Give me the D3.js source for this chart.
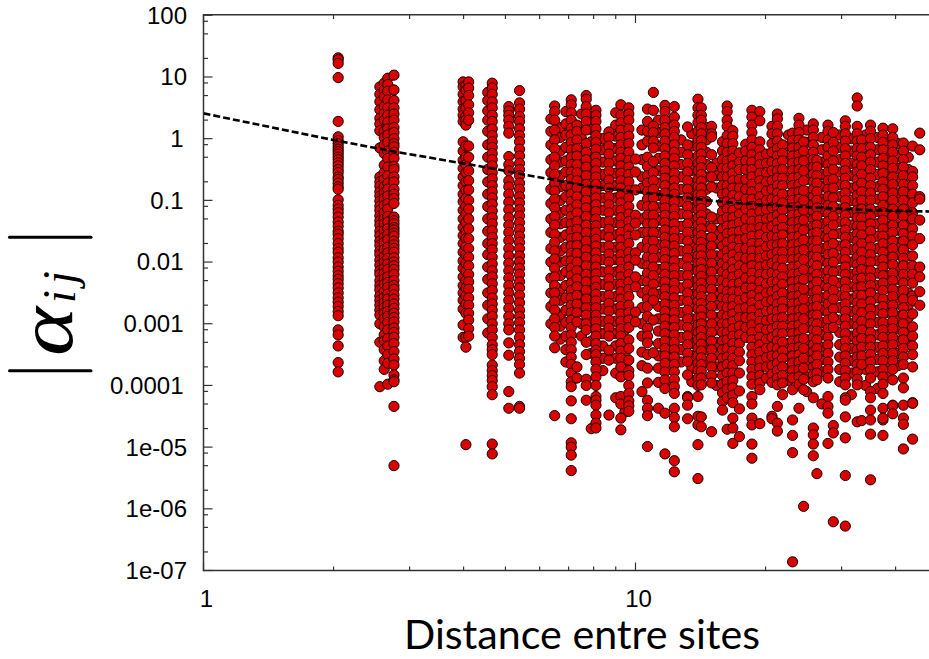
<!DOCTYPE html>
<html><head><meta charset="utf-8">
<script src="https://cdn.jsdelivr.net/npm/d3@7/dist/d3.min.js"></script>
<style>html,body{margin:0;padding:0;background:#fff}svg{display:block}</style></head>
<body><svg id="c" width="929" height="659"></svg>
<script>
// Secondary, thinner columns (drawn first)
const sideDistances=[6.37,6.7,6.9,7.5,7.9,8.4,9.0,9.45,10.35,11.3,12.0,12.75,13.5,14.6,15.4,22.6,24.9,27.0,29.7,31.6,34.1,36.3,38.5,40.5,42.8];
const sideLogAlpha=[
[.32,.12,-.1,-.34,-.55,-.82,-1.05,-1.3,-1.52,-1.78,-2.0,-2.26,-2.5,-2.72,-3.0],
[.18,.02,-.2,-.38,-.6,-.78,-1.0,-1.2,-1.38,-1.6,-1.82,-2.0,-2.22,-2.44,-2.62,-2.86,-3.04,-3.25],
[.44,.24,.06,-.14,-.36,-.54,-.76,-.94,-1.16,-1.36,-1.56,-1.76,-1.98,-2.16,-2.38,-2.58,-2.78,-2.98,-3.2,-3.42,-3.62],
[.4,.2,.0,-.2,-.4,-.6,-.8,-1.0,-1.2,-1.4,-1.6,-1.8,-2.0,-2.2,-2.4,-2.6,-2.8,-3.0,-3.2],
[.36,.15,-.05,-.24,-.46,-.66,-.86,-1.06,-1.26,-1.46,-1.66,-1.86,-2.06,-2.26,-2.46,-2.66,-2.86,-3.06,-3.28,-3.48,-4.7],
[.0,-.18,-.38,-.58,-.76,-.96,-1.16,-1.36,-1.56,-1.76,-1.96,-2.16,-2.36,-2.56,-2.76,-2.96,-3.16,-3.36,-3.56,-3.76],
[.42,.22,.04,-.16,-.36,-.56,-.76,-.96,-1.16,-1.36,-1.56,-1.76,-1.96,-2.16,-2.36,-2.56,-2.76,-2.96,-3.16,-3.36,-3.56,-3.8,-4.2],
[.3,.1,-.1,-.3,-.5,-.7,-.9,-1.1,-1.3,-1.5,-1.7,-1.9,-2.1,-2.3,-2.5,-2.7,-2.9,-3.1,-3.3,-3.5,-3.7,-4.43],
[.14,-.1,-.34,-.62,-.8,-1.08,-1.3,-1.52,-1.76,-2.02,-2.3,-2.5,-2.74,-3.0,-3.2,-3.46,-3.68,-4.1],
[.3,.1,-.12,-.32,-.52,-.72,-.92,-1.12,-1.32,-1.52,-1.72,-1.92,-2.12,-2.32,-2.52,-2.72,-2.92,-3.12,-3.32,-3.52,-3.72,-3.95,-4.37],
[.26,.06,-.14,-.34,-.54,-.74,-.94,-1.14,-1.34,-1.54,-1.74,-1.94,-2.14,-2.34,-2.54,-2.74,-2.94,-3.14,-3.34,-3.54,-3.74,-3.98],
[-.02,-.22,-.42,-.62,-.82,-1.02,-1.22,-1.42,-1.62,-1.82,-2.02,-2.22,-2.42,-2.62,-2.82,-3.02,-3.22,-3.42,-3.62],
[.08,-.12,-.32,-.52,-.72,-.92,-1.12,-1.32,-1.52,-1.72,-1.92,-2.12,-2.32,-2.52,-2.72,-2.92,-3.12,-3.32,-3.52,-3.72,-3.94],
[.18,-.02,-.22,-.42,-.62,-.82,-1.02,-1.22,-1.42,-1.62,-1.82,-2.02,-2.22,-2.42,-2.62,-2.82,-3.02,-3.22,-3.42,-3.62],
[-.4,-.6,-.8,-1.3,-1.5,-1.7,-1.9,-2.1,-2.3,-2.5,-2.7,-2.9,-3.1,-3.3,-3.5,-3.7,-4.0],
[.06,-.12,-.32,-.52,-.72,-.92,-1.12,-1.32,-1.52,-1.72,-1.92,-2.12,-2.32,-2.52,-2.72,-2.92,-3.12,-3.32,-3.52,-3.72,-3.92],
[.14,-.06,-.26,-.46,-.66,-.86,-1.06,-1.26,-1.46,-1.66,-1.86,-2.06,-2.26,-2.46,-2.66,-2.86,-3.06,-3.26,-3.46,-3.66,-3.86,-4.1],
[.02,-.18,-.38,-.58,-.78,-.98,-1.18,-1.38,-1.58,-1.78,-1.98,-2.18,-2.38,-2.58,-2.78,-2.98,-3.18,-3.38,-3.58,-3.78,-4.3],
[.06,-.14,-.34,-.54,-.74,-.94,-1.14,-1.34,-1.54,-1.74,-1.94,-2.14,-2.34,-2.54,-2.74,-2.94,-3.14,-3.34,-3.54,-3.74,-3.94],
[.0,-.2,-.4,-.6,-.8,-1.0,-1.2,-1.4,-1.6,-1.8,-2.0,-2.2,-2.4,-2.6,-2.8,-3.0,-3.2,-3.4,-3.6,-3.8,-4.15],
[.06,-.14,-.34,-.54,-.74,-.94,-1.14,-1.34,-1.54,-1.74,-1.94,-2.14,-2.34,-2.54,-2.74,-2.94,-3.14,-3.34,-3.54,-3.74,-4.0],
[.02,-.18,-.38,-.58,-.78,-.98,-1.18,-1.38,-1.58,-1.78,-1.98,-2.18,-2.38,-2.58,-2.78,-2.98,-3.18,-3.38,-3.58,-3.78,-4.05],
[-.02,-.22,-.42,-.62,-.82,-1.02,-1.22,-1.42,-1.62,-1.82,-2.02,-2.22,-2.42,-2.62,-2.82,-3.02,-3.22,-3.42,-3.62,-3.82],
[-.08,-.28,-.48,-.68,-.88,-1.08,-1.28,-1.48,-1.68,-1.88,-2.08,-2.28,-2.48,-2.68,-2.88,-3.08,-3.28,-3.48,-3.68],
[-.3,-.5,-.7,-.9,-1.1,-1.3,-1.5,-1.7,-1.9,-2.1,-2.3,-2.5,-2.7,-2.9,-3.1,-3.3]
];
// Distances of the main vertical point columns
const distances=[2.05,2.56,2.62,2.67,2.76,3.99,4.05,4.11,4.55,4.66,5.09,5.39,6.5,7.10,7.32,7.69,8.10,8.68,9.25,9.65,10.0,10.66,11.0,11.7,12.3,13.2,13.95,14.2,15.0,15.9,16.3,16.8,17.4,18.0,18.6,19.4,20.1,20.7,21.3,21.9,23.1,23.9,24.5,25.8,26.3,27.9,28.7,30.6,32.6,33.4,35.0,37.4,39.4,41.7,43.8,45.5];
// log10 |alpha| of the points in each column, in the same order
const logAlpha=[
[1.31,1.28,1.22,.99,.28,.03,-.03,-.08,-.13,-.17,-.21,-.25,-.3,-.34,-.39,-.44,-.5,-.55,-.62,-.66,-.72,-.78,-.82,-.99,-1.08,-1.14,-1.2,-1.27,-1.35,-1.42,-1.5,-1.55,-1.62,-1.7,-1.78,-1.84,-1.93,-2.0,-2.08,-2.15,-2.22,-2.28,-2.35,-2.42,-2.5,-2.58,-2.65,-2.72,-2.8,-2.87,-3.1,-3.18,-3.36,-3.63,-3.78],
[.84,.72,.6,.47,.33,.24,.13,-.15,-.62,-.7,-.77,-.86,-.93,-1.01,-1.09,-1.16,-1.25,-1.33,-1.4,-1.5,-1.57,-1.66,-1.73,-1.82,-1.88,-1.97,-2.05,-2.14,-2.2,-2.3,-2.38,-2.45,-2.55,-2.62,-2.7,-2.78,-2.86,-3.0,-3.3,-4.02],
[.9,.79,.68,.52,.41,.3,.12,.02,-.1,-.24,-.43,-.55,-.66,-.78,-.88,-.97,-1.08,-1.2,-1.3,-1.38,-1.49,-1.6,-1.68,-1.8,-1.91,-2.0,-2.1,-2.18,-2.27,-2.36,-2.48,-2.57,-2.66,-2.74,-2.83,-2.92,-3.05,-3.18,-3.28,-3.42,-3.6,-3.74],
[.98,.88,.77,.63,.5,.38,.27,.16,.06,-.06,-.2,-.32,-.46,-.6,-.72,-.82,-.93,-1.05,-1.14,-1.26,-1.35,-1.46,-1.55,-1.64,-1.76,-1.85,-1.94,-2.03,-2.12,-2.24,-2.33,-2.41,-2.52,-2.6,-2.7,-2.8,-2.88,-2.98,-3.1,-3.24,-3.36,-3.5,-3.64,-3.98],
[1.03,.79,.62,.5,.4,.3,.18,.1,.0,-.08,-.13,-.22,-.32,-.45,-.5,-.62,-.7,-.82,-.9,-.97,-1.05,-1.27,-1.33,-1.38,-1.44,-1.48,-1.53,-1.58,-1.66,-1.72,-1.78,-1.84,-1.93,-2.0,-2.06,-2.12,-2.2,-2.3,-2.38,-2.44,-2.53,-2.6,-2.68,-2.75,-2.83,-2.9,-2.97,-3.07,-3.14,-3.22,-3.32,-3.45,-3.57,-3.67,-3.83,-3.91,-3.94,-4.34,-5.3],
[.92,.84,.72,.6,.48,.38,.28,-.05,-.2,-.35,-.48,-.62,-.76,-.9,-1.02,-1.16,-1.3,-1.44,-1.57,-1.7,-1.84,-1.98,-2.1,-2.24,-2.38,-2.5,-2.62,-2.76,-3.02,-3.22],
[.86,.78,.62,.5,.36,.3,.22,-.12,-.3,-.42,-.55,-.7,-.84,-.97,-1.1,-1.22,-1.36,-1.5,-1.62,-1.75,-1.88,-2.02,-2.15,-2.3,-2.42,-2.55,-2.68,-2.83,-3.22,-3.38,-4.96],
[.92,.82,.7,.55,.42,.3,-.12,-.3,-.52,-.68,-.83,-1.0,-1.14,-1.3,-1.46,-1.62,-1.78,-1.92,-2.06,-2.2,-2.32,-2.44,-2.58,-2.7,-2.83,-2.94,-3.08,-3.2],
[.75,.62,.45,.3,.12,-.1,-.3,-.5,-.7,-.9,-1.1,-1.3,-1.5,-1.7,-1.88,-2.08,-2.28,-2.5,-2.7,-2.92,-3.15],
[.9,.82,.72,.6,.5,.38,.28,.16,.05,-.05,-.14,-.24,-.34,-.44,-.55,-.65,-.76,-.86,-.96,-1.06,-1.17,-1.28,-1.38,-1.49,-1.6,-1.7,-1.8,-1.92,-2.03,-2.14,-2.24,-2.35,-2.46,-2.58,-2.68,-2.78,-2.88,-3.0,-3.1,-3.22,-3.34,-3.42,-3.5,-3.67,-3.76,-3.84,-3.92,-4.02,-4.15,-4.95,-5.11],
[.52,.45,.38,.3,.2,.09,-.29,-.42,-.52,-.68,-.78,-.9,-1.03,-1.15,-1.28,-1.4,-1.52,-1.65,-1.78,-1.9,-2.02,-2.14,-2.26,-2.38,-2.5,-2.62,-2.75,-2.88,-3.0,-3.1,-3.31,-3.51,-4.1,-4.37],
[.78,.58,.48,.36,.28,.16,.05,-.05,-.17,-.28,-.4,-.5,-.6,-.72,-.82,-.94,-1.04,-1.15,-1.25,-1.36,-1.47,-1.58,-1.68,-1.78,-1.9,-2.0,-2.1,-2.2,-2.32,-2.42,-2.54,-2.66,-2.78,-2.88,-2.98,-3.1,-3.22,-3.34,-3.45,-3.56,-3.66,-3.8,-4.34,-4.37],
[.53,.44,.3,.14,-.02,-.16,-.3,-.44,-.58,-.72,-.85,-.98,-1.12,-1.26,-1.4,-1.55,-1.68,-1.82,-1.95,-2.1,-2.24,-2.38,-2.5,-2.64,-2.78,-2.92,-3.06,-3.2,-3.39,-4.49],
[.63,.55,.42,.3,.17,.06,-.06,-.18,-.3,-.42,-.54,-.66,-.78,-.9,-1.02,-1.14,-1.26,-1.38,-1.5,-1.62,-1.74,-1.86,-1.98,-2.1,-2.22,-2.34,-2.46,-2.58,-2.7,-2.82,-2.94,-3.06,-3.18,-3.3,-3.42,-3.54,-3.66,-3.8,-3.94,-4.02,-4.25,-4.54,-4.93,-5.0,-5.13,-5.38],
[.22,.12,-.02,-.16,-.28,-.42,-.55,-.68,-.8,-.94,-1.07,-1.2,-1.34,-1.47,-1.6,-1.73,-1.86,-2.0,-2.14,-2.27,-2.4,-2.54,-2.68,-2.82,-2.97,-3.7,-3.88],
[.7,.64,.52,.4,.28,.14,-.08,-.22,-.34,-.46,-.6,-.74,-.86,-1.0,-1.12,-1.26,-1.4,-1.52,-1.66,-1.8,-1.92,-2.06,-2.2,-2.32,-2.46,-2.6,-2.74,-2.86,-3.0,-3.1,-3.3,-3.5,-4.24,-3.9,-4.0],
[.46,.38,.28,.16,.05,-.06,-.17,-.3,-.4,-.52,-.62,-.74,-.85,-.96,-1.07,-1.18,-1.3,-1.41,-1.52,-1.63,-1.74,-1.85,-1.96,-2.08,-2.19,-2.3,-2.41,-2.52,-2.63,-2.74,-2.86,-2.97,-3.08,-3.2,-3.32,-3.43,-3.5,-3.62,-3.74,-3.86,-4.0,-4.18,-4.24,-4.32,-4.48,-4.61,-4.69],
[.11,.02,-.12,-.25,-.4,-.53,-.67,-.8,-.94,-1.07,-1.2,-1.34,-1.47,-1.6,-1.74,-1.87,-2.0,-2.14,-2.27,-2.4,-2.54,-2.67,-2.8,-2.94,-3.07,-3.2,-3.43,-3.59,-4.48],
[.55,.38,.26,.14,.02,-.1,-.22,-.32,-.44,-.56,-.68,-.8,-.92,-1.04,-1.16,-1.28,-1.4,-1.52,-1.64,-1.76,-1.88,-2.0,-2.12,-2.24,-2.36,-2.48,-2.6,-2.72,-2.84,-2.96,-3.08,-3.2,-3.32,-3.44,-3.56,-3.7,-3.86,-4.18,-4.3,-4.53,-4.72],
[.5,.4,.3,.16,.04,-.08,-.22,-.35,-.46,-.58,-.7,-.84,-.96,-1.1,-1.22,-1.34,-1.46,-1.58,-1.7,-1.84,-1.96,-2.08,-2.2,-2.32,-2.44,-2.56,-2.7,-2.82,-2.94,-3.06,-3.26,-3.4,-3.59,-3.76,-3.84,-4.0,-4.13,-4.25,-4.33,-4.42],
[-.33,-.54,-.83,-1.24,-1.37,-1.56,-1.85,-1.97,-2.24,-2.4,-2.81,-2.97],
[.48,.28,.12,-.04,-.3,-.45,-.6,-.72,-.86,-.98,-1.1,-1.24,-1.38,-1.52,-1.66,-1.78,-1.92,-2.06,-2.18,-2.32,-2.46,-2.6,-2.72,-2.88,-3.07,-3.2,-3.31,-3.5,-3.72,-3.96,-4.24,-4.37,-4.49,-4.99],
[.75,.46,.2,.1,-.04,-.15,-.37,-.55,-.68,-.82,-.96,-1.1,-1.24,-1.38,-1.52,-1.66,-1.8,-1.94,-2.08,-2.22,-2.36,-2.5,-2.62,-2.94,-3.47],
[.54,.44,.3,.18,.08,-.04,-.16,-.28,-.4,-.52,-.64,-.76,-.88,-1.0,-1.12,-1.24,-1.36,-1.48,-1.6,-1.72,-1.84,-1.96,-2.08,-2.2,-2.32,-2.44,-2.56,-2.68,-2.8,-2.92,-3.04,-3.16,-3.28,-3.4,-3.52,-3.64,-3.78,-3.91,-4.05,-4.45,-5.11],
[.52,.35,.22,.12,.02,-.1,-.22,-.32,-.44,-.56,-.68,-.8,-.9,-1.02,-1.14,-1.26,-1.38,-1.5,-1.62,-1.74,-1.86,-1.98,-2.1,-2.22,-2.34,-2.46,-2.58,-2.7,-2.82,-2.94,-3.06,-3.18,-3.3,-3.42,-3.54,-3.66,-3.78,-3.9,-4.02,-4.13,-4.37,-4.52,-4.67,-5.22,-5.4],
[.19,-.1,-.26,-.4,-.54,-.68,-.82,-.96,-1.1,-1.24,-1.38,-1.52,-1.66,-1.8,-1.94,-2.08,-2.22,-2.36,-2.5,-2.64,-2.78,-2.92,-3.06,-3.2,-3.34,-3.48,-3.61,-3.83,-4.18,-4.2,-4.32,-4.54],
[.64,.5,.38,.26,.12,-.02,-.14,-.28,-.4,-.52,-.66,-.78,-.9,-1.02,-1.16,-1.28,-1.4,-1.52,-1.64,-1.78,-1.9,-2.02,-2.14,-2.28,-2.4,-2.52,-2.64,-2.76,-2.9,-3.02,-3.14,-3.26,-3.4,-3.52,-3.64,-3.76,-3.88,-4.0,-4.18,-4.5,-4.64,-4.96,-5.51],
[.5,.38,.3,.18,.08,-.03,-.14,-.25,-.36,-.47,-.58,-.69,-.8,-.91,-1.02,-1.13,-1.24,-1.35,-1.46,-1.57,-1.68,-1.79,-1.9,-2.01,-2.12,-2.23,-2.34,-2.45,-2.56,-2.67,-2.78,-2.89,-3.0,-3.11,-3.22,-3.33,-3.44,-3.55,-3.66,-3.77,-3.88,-3.99,-4.51,-4.67],
[.2,.08,.03,-.26,-.47,-.62,-.78,-1.27,-1.45,-1.6,-1.74,-1.88,-2.02,-2.16,-2.3,-2.44,-2.58,-2.72,-2.86,-3.0,-3.14,-3.28,-3.42,-3.56,-3.7,-3.84,-3.96,-4.75],
[-.05,-.2,-.34,-.48,-.62,-.76,-.9,-1.04,-1.18,-1.32,-1.46,-1.6,-1.74,-1.88,-2.02,-2.16,-2.3,-2.44,-2.58,-2.72,-2.86,-3.0,-3.14,-3.28,-3.42,-3.56,-3.7,-3.84,-3.98,-4.12,-4.26,-4.4],
[.53,.44,.3,.2,.05,-.08,-.22,-.36,-.48,-.62,-.76,-.88,-1.02,-1.14,-1.28,-1.42,-1.54,-1.68,-1.82,-1.94,-2.08,-2.2,-2.34,-2.48,-2.6,-2.74,-2.88,-3.0,-3.14,-3.26,-3.4,-3.54,-3.66,-3.8,-3.94,-4.06,-4.2,-4.71],
[.13,.04,-.08,-.2,-.32,-.44,-.56,-.68,-.8,-.92,-1.04,-1.16,-1.28,-1.4,-1.52,-1.64,-1.76,-1.88,-2.0,-2.12,-2.24,-2.36,-2.48,-2.6,-2.72,-2.84,-2.96,-3.08,-3.2,-3.32,-3.44,-3.56,-3.68,-3.8,-3.92,-4.04,-4.16,-4.28,-4.53,-4.69,-4.94],
[-.23,-.38,-.5,-.66,-.8,-.94,-1.08,-1.22,-1.36,-1.5,-1.64,-1.78,-1.92,-2.06,-2.2,-2.34,-2.48,-2.62,-2.76,-2.9,-3.04,-3.18,-3.32,-3.46,-3.6,-3.8,-4.09,-4.38,-4.83],
[-.09,-.2,-.36,-.5,-.66,-.82,-.98,-1.14,-1.3,-1.46,-1.62,-1.78,-1.94,-2.1,-2.26,-2.42,-2.58,-2.74,-2.9,-3.06,-3.22],
[.46,.35,.22,.1,-.02,-.14,-.26,-.38,-.5,-.62,-.74,-.86,-.98,-1.1,-1.22,-1.34,-1.46,-1.58,-1.7,-1.82,-1.94,-2.06,-2.18,-2.3,-2.42,-2.54,-2.66,-2.78,-2.9,-3.02,-3.14,-3.26,-3.38,-3.5,-3.62,-3.74,-3.86,-3.98,-4.18,-4.3,-4.53,-4.64,-4.95,-5.18],
[.44,.29,-.05,-.18,-.3,-.42,-.56,-.68,-.8,-.94,-1.06,-1.18,-1.32,-1.44,-1.56,-1.7,-1.82,-1.94,-2.08,-2.2,-2.32,-2.46,-2.58,-2.7,-2.84,-2.96,-3.08,-3.22,-3.34,-3.46,-3.6,-3.72,-3.84,-3.96,-4.07,-4.62],
[-.25,-.4,-.55,-.7,-.85,-1.0,-1.15,-1.3,-1.45,-1.6,-1.75,-1.9,-2.05,-2.2,-2.35,-2.5,-2.65,-2.8,-2.95,-3.1,-3.25,-3.4,-3.55,-3.7,-3.88],
[.2,.08,-.08,-.22,-.38,-.52,-.68,-.82,-.98,-1.12,-1.28,-1.42,-1.58,-1.72,-1.88,-2.02,-2.18,-2.32,-2.48,-2.62,-2.78,-2.92,-3.08,-3.22,-3.38,-3.52,-3.68,-3.82,-3.95,-4.5,-4.54],
[.4,.32,.2,.08,-.04,-.16,-.28,-.4,-.52,-.64,-.76,-.88,-1.0,-1.12,-1.24,-1.36,-1.48,-1.6,-1.72,-1.84,-1.96,-2.08,-2.2,-2.32,-2.44,-2.56,-2.68,-2.8,-2.92,-3.04,-3.16,-3.28,-3.4,-3.52,-3.64,-3.76,-3.88,-3.99,-4.34,-4.61,-4.74],
[-.1,-.24,-.36,-.5,-.64,-.76,-.9,-1.04,-1.16,-1.3,-1.44,-1.56,-1.7,-1.84,-1.96,-2.1,-2.24,-2.36,-2.5,-2.64,-2.76,-2.9,-3.04,-3.16,-3.3,-3.44,-3.56,-3.7,-3.84,-3.96,-4.15],
[.09,-.03,-.15,-.28,-.4,-.52,-.64,-.76,-.88,-1.0,-1.12,-1.24,-1.36,-1.48,-1.6,-1.72,-1.84,-1.96,-2.08,-2.2,-2.32,-2.44,-2.56,-2.68,-2.8,-2.92,-3.04,-3.16,-3.28,-3.4,-3.52,-3.64,-3.76,-3.88,-4.07,-4.56,-4.81,-5.09,-6.86],
[.33,.22,.1,-.02,-.14,-.26,-.38,-.5,-.62,-.74,-.86,-.98,-1.1,-1.22,-1.34,-1.46,-1.58,-1.7,-1.82,-1.94,-2.06,-2.18,-2.3,-2.42,-2.54,-2.66,-2.78,-2.9,-3.02,-3.14,-3.26,-3.38,-3.5,-3.62,-3.74,-3.86,-3.98,-4.37],
[-.05,-.2,-.36,-.52,-.68,-.84,-1.0,-1.16,-1.32,-1.48,-1.64,-1.8,-1.96,-2.12,-2.28,-2.44,-2.6,-2.76,-2.92,-3.08,-3.24,-3.4,-3.56,-3.72,-3.9,-4.07,-5.96],
[.24,.14,.02,-.1,-.22,-.34,-.46,-.58,-.7,-.82,-.94,-1.06,-1.18,-1.3,-1.42,-1.54,-1.66,-1.78,-1.9,-2.02,-2.14,-2.26,-2.38,-2.5,-2.62,-2.74,-2.86,-2.98,-3.1,-3.22,-3.34,-3.46,-3.58,-3.7,-3.82,-3.94,-4.2,-4.69,-4.8,-4.95,-5.14],
[-.35,-.46,-.6,-.72,-.86,-1.0,-1.12,-1.26,-1.4,-1.52,-1.66,-1.8,-1.92,-2.06,-2.2,-2.32,-2.46,-2.6,-2.72,-2.86,-3.0,-3.12,-3.26,-3.4,-3.52,-3.66,-3.8,-3.91,-5.43],
[.22,.12,-.02,-.14,-.28,-.42,-.54,-.68,-.82,-.94,-1.08,-1.22,-1.34,-1.48,-1.62,-1.74,-1.88,-2.02,-2.14,-2.28,-2.42,-2.54,-2.68,-2.82,-2.94,-3.08,-3.22,-3.34,-3.48,-3.62,-3.74,-3.88,-4.18,-4.34,-4.45,-4.94],
[.1,-.06,-.2,-.36,-.5,-.66,-.8,-.96,-1.1,-1.26,-1.4,-1.56,-1.7,-1.86,-2.0,-2.16,-2.3,-2.46,-2.6,-2.76,-2.9,-3.06,-4.65,-4.77,-6.21],
[.29,.2,.08,-.04,-.16,-.28,-.4,-.52,-.64,-.76,-.88,-1.0,-1.12,-1.24,-1.36,-1.48,-1.6,-1.72,-1.84,-1.96,-2.08,-2.2,-2.32,-2.44,-2.56,-2.68,-2.8,-2.92,-3.04,-3.16,-3.28,-3.4,-3.52,-3.64,-3.76,-3.88,-3.99,-4.2,-4.24,-4.51,-4.85,-5.46,-6.28],
[.66,.53,.2,.08,-.04,-.16,-.28,-.42,-.54,-.66,-.78,-.92,-1.04,-1.16,-1.28,-1.42,-1.54,-1.66,-1.78,-1.92,-2.04,-2.16,-2.28,-2.42,-2.54,-2.66,-2.78,-2.92,-3.04,-3.16,-3.28,-3.42,-3.54,-3.66,-3.78,-3.9,-3.99,-4.59],
[-.02,-.16,-.3,-.44,-.58,-.72,-.86,-1.0,-1.14,-1.28,-1.42,-1.56,-1.7,-1.84,-1.98,-2.12,-2.26,-2.4,-2.54,-2.68,-2.82,-2.96,-3.1,-3.24,-3.38,-3.52,-3.66,-4.57],
[.22,.12,.0,-.14,-.26,-.38,-.5,-.64,-.76,-.88,-1.0,-1.14,-1.26,-1.38,-1.5,-1.64,-1.76,-1.88,-2.0,-2.14,-2.26,-2.38,-2.5,-2.64,-2.76,-2.88,-3.0,-3.14,-3.26,-3.38,-3.5,-3.62,-3.74,-3.88,-4.1,-4.2,-4.4,-4.56,-4.79,-5.53],
[.17,.06,-.06,-.18,-.32,-.44,-.56,-.7,-.82,-.94,-1.08,-1.2,-1.32,-1.46,-1.58,-1.7,-1.84,-1.96,-2.08,-2.22,-2.34,-2.46,-2.6,-2.72,-2.84,-2.98,-3.1,-3.22,-3.36,-3.48,-3.6,-3.74,-3.86,-3.98,-4.13,-4.37,-4.56,-4.53,-4.81],
[.16,.02,-.1,-.22,-.36,-.48,-.62,-.74,-.88,-1.0,-1.14,-1.26,-1.4,-1.52,-1.66,-1.78,-1.92,-2.04,-2.18,-2.3,-2.44,-2.56,-2.7,-2.82,-2.96,-3.08,-3.22,-3.34,-3.48,-3.6,-3.74,-3.91,-4.32,-4.33,-4.46],
[-.07,-.2,-.34,-.46,-.6,-.74,-.86,-1.0,-1.14,-1.26,-1.4,-1.54,-1.66,-1.8,-1.94,-2.06,-2.2,-2.34,-2.46,-2.6,-2.74,-2.86,-3.0,-3.14,-3.26,-3.4,-3.54,-3.66,-3.88,-4.04,-4.32,-4.53,-4.63,-5.03],
[-.12,-.53,-.62,-.76,-.9,-1.04,-1.2,-1.3,-1.46,-1.58,-1.72,-1.9,-2.06,-2.2,-2.34,-2.55,-2.62,-2.84,-3.05,-3.2,-3.36,-3.5,-3.7,-4.28,-4.29,-4.87],
[.09,-.18,-.94,-.98,-1.32,-1.62,-2.08,-2.24,-2.48,-2.7]
];
// Dashed fit curve
const fitDist=[1,2,2.76,3.92,4.66,5.39,6.6,8.0,10,11.7,14.7,17.3,23.1,30,35.8,47.8];
const fitAlpha=[2.57,0.95,0.62,0.405,0.33,0.27,0.21,0.165,0.138,0.122,0.1,0.09,0.08,0.073,0.069,0.066];
// Axis ticks
const yMajor=[100,10,1,0.1,0.01,0.001,0.0001,1e-5,1e-6,1e-7];
const yLabels=["100","10","1","0.1","0.01","0.001","0.0001","1e-05","1e-06","1e-07"];
const yMinorMult=[2,5,8];
const xMajor=[1,10];
const xMinor=[2,3,4,5,6,7,8,9,20,30,40];

const svg=d3.select("#c");
const x=d3.scaleLog().domain([1,47.8]).range([203.5,929]);
const y=d3.scaleLog().domain([1e-7,100]).range([570.5,15.3]);
const ax="#333";
const tickLine=(g,x1,y1,x2,y2,w)=>g.append("line").attr("x1",x1).attr("y1",y1).attr("x2",x2).attr("y2",y2).attr("stroke",ax).attr("stroke-width",w);

const pts=svg.append("g");
const drawColumn=(d,vals)=>{
  pts.selectAll(null).data(vals).enter().append("circle")
   .attr("cx",x(d)).attr("cy",e=>y(Math.pow(10,e))).attr("r",5.1)
   .attr("fill","#d90000").attr("stroke","#1a0000").attr("stroke-width",1);
};
sideDistances.forEach((d,i)=>drawColumn(d,sideLogAlpha[i]));
distances.forEach((d,i)=>drawColumn(d,logAlpha[i]));
svg.append("path").datum(fitDist.map((d,i)=>[d,fitAlpha[i]]))
 .attr("d",d3.line().x(d=>x(d[0])).y(d=>y(d[1])))
 .attr("fill","none").attr("stroke","#000").attr("stroke-width",2.6).attr("stroke-dasharray","7,3");

const ag=svg.append("g");
tickLine(ag,203.5,14.7,929,14.7,1.5);
tickLine(ag,203.5,570.5,929,570.5,1.5);
tickLine(ag,203.5,14,203.5,571.2,1.5);
yMajor.forEach((v,i)=>{
  tickLine(ag,203.5,y(v),212.5,y(v),1.2);
  if(i>0) yMinorMult.forEach(m=>{const t=v*m; tickLine(ag,203.5,y(t),208,y(t),1.2);});
  const right=(v===100||v===10||v<=1e-5)?187:183.5;
  ag.append("text").attr("x",right).attr("y",y(v)).attr("dy","0.35em").attr("text-anchor","end")
    .attr("font-family","Liberation Sans").attr("font-size",24).attr("fill","#000").text(yLabels[i]);
});
xMajor.forEach(v=>{
  tickLine(ag,x(v),15,x(v),23,1.2); tickLine(ag,x(v),562.5,x(v),570.5,1.2);
  ag.append("text").attr("x",x(v)+3).attr("y",606.5).attr("text-anchor","middle")
    .attr("font-family","Liberation Sans").attr("font-size",24).attr("fill","#000").text(v);
});
xMinor.forEach(v=>{tickLine(ag,x(v),15,x(v),19,1.2); tickLine(ag,x(v),566.5,x(v),570.5,1.2);});

svg.append("text").attr("x",582).attr("y",649).attr("text-anchor","middle")
 .attr("font-family","Lato").attr("font-size",41.2).attr("fill","#000").text("Distance entre sites");

// Y title |alpha_ij|
tickLine(svg,9.5,237.3,91,237.3,3).attr("stroke","#000").attr("stroke-linecap","round");
tickLine(svg,9.5,370.7,91,370.7,3).attr("stroke","#000").attr("stroke-linecap","round");
const rot=(px,py,size,t,sx)=>svg.append("text").attr("transform",`translate(${px},${py}) rotate(-90) scale(${sx},1)`)
 .attr("font-family","Liberation Serif").attr("font-style","italic").attr("font-size",size).attr("fill","#000").text(t);
rot(72,356,78,"α",1.2);
rot(75,303,46,"i",1);
rot(75,284,46,"j",1);
</script></body></html>
